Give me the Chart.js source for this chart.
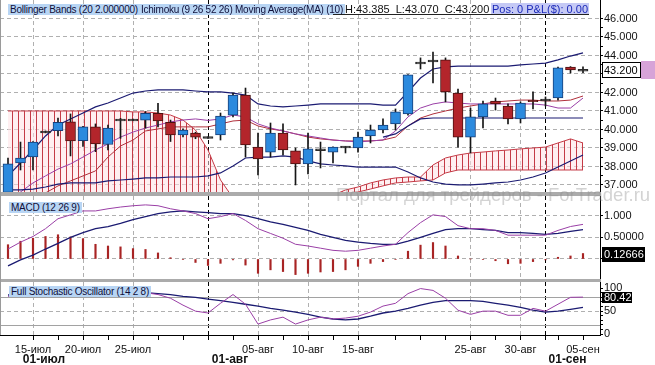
<!DOCTYPE html>
<html lang="ru">
<head>
<meta charset="utf-8">
<title>Bollinger / Ichimoku / MACD / Stochastic</title>
<script src="https://cdn.jsdelivr.net/npm/chart.js@4.4.1/dist/chart.umd.min.js"></script>
<style>
    html, body { margin: 0; padding: 0; background: #fff; }
    body { position: relative; width: 655px; height: 365px; overflow: hidden;
           font-family: "Liberation Sans", Arial, sans-serif; }
    canvas { position: absolute; left: 0; }
    #main-chart { top: 0; }
    #macd-chart { top: 196px; }
    #stoch-chart { top: 282px; }
    .sep { position: absolute; left: 0; width: 601px; background: #ababab; z-index: 2; }
    .edge { position: absolute; left: 0; top: 0; width: 1px; height: 335px; background: #9a9a9a; z-index: 2; }
    .tag { position: absolute; z-index: 3; height: 11px; line-height: 11px; padding: 0 2px;
           font-size: 10px; white-space: nowrap; background: #b8d5f4; color: #10103a; letter-spacing: -0.25px; }
    .plain { position: absolute; z-index: 3; font-size: 11px; line-height: 12px; white-space: nowrap; color: #111; }
    .pos { background: #c5c9f5; color: #1c2ab8; padding: 0 1px; }
    .underline { position: absolute; z-index: 3; left: 333px; top: 14px; width: 256px; height: 1px; background: #222; }
    .watermark { position: absolute; z-index: 3; left: 336px; top: 184px; font-size: 18.5px; line-height: 21px;
                 color: rgba(140,140,140,0.38); white-space: nowrap; }
</style>
</head>
<body>
<canvas id="main-chart" width="655" height="192"></canvas>
<canvas id="macd-chart" width="655" height="83"></canvas>
<canvas id="stoch-chart" width="655" height="83"></canvas>

<div class="sep" style="top:192px;height:4px"></div>
<div class="sep" style="top:279px;height:3px"></div>
<div class="edge"></div>

<span class="tag" style="left:8px;top:4px">Bollinger Bands (20 2.000000)</span>
<span class="tag" style="left:139px;top:4px">Ichimoku (9 26 52 26)</span>
<span class="tag" style="left:233px;top:4px">Moving Average(MA) (10)</span>
<span class="plain" style="left:345px;top:3px">H:43.385&nbsp;&nbsp;L:43.070&nbsp;&nbsp;C:43.200</span>
<span class="plain pos" style="left:491px;top:3px">Pos: 0 P&amp;L($): 0.00</span>
<div class="underline"></div>
<span class="tag" style="left:9px;top:202px">MACD (12 26 9)</span>
<span class="tag" style="left:9px;top:286px">Full Stochastic Oscillator (14 2 8)</span>
<div class="watermark">Портал для трейдеров - ForTrader.ru</div>

<script>
// ─── Данные (индекс = номер свечи) ──────────────────────────────────────────

const tickIdx = [2, 6, 10, 20, 24, 28, 37, 41, 46];
const tickText = ["15-июл", "20-июл", "25-июл", "05-авг", "10-авг", "15-авг", "25-авг", "30-авг", "05-сен"];
const gridIdx = [2, 6, 10, 20, 24, 28, 37, 41];
const minorIdx = [4, 8, 12, 14, 18, 22, 26, 31, 33, 35, 39, 44];
const monthIdx = [-9, 16, 43];
const monthText = ["01-июл", "01-авг", "01-сен"];

const priceTicks = [37, 38, 39, 40, 41, 42, 43, 44, 45, 46];
const macdTicks = [0, 0.5, 1];
const macdTickText = ["", "0.50000", "1.000"];
const stochTicks = [0, 50, 100];
const stochLevels = [20, 80];

const opens = [36.60, 38.19, 38.51, 39.86, 39.93, 40.41, 39.39, 40.14, 39.19, 40.51,
    40.53, 40.51, 40.87, 40.38, 39.70, 39.81, 39.57, 39.70, 40.78, 41.86,
    39.05, 38.78, 39.81, 38.84, 38.14, 38.92, 38.78, 39.05, 39.00, 39.65,
    39.97, 40.30, 40.84, 43.59, 43.70, 43.76, 41.97, 39.59, 40.68, 41.54,
    41.27, 40.57, 41.58, 41.59, 41.70, 43.38, 43.20];
const highs = [38.45, 39.32, 39.35, 39.92, 40.62, 40.84, 40.17, 40.30, 40.24, 40.60,
    40.56, 40.97, 41.42, 40.51, 40.03, 39.85, 39.60, 40.89, 41.97, 42.24,
    39.81, 40.35, 40.30, 39.00, 39.81, 39.32, 39.06, 39.08, 39.86, 40.24,
    40.57, 41.11, 42.97, 43.87, 44.19, 43.87, 42.19, 41.16, 41.54, 41.70,
    41.38, 41.49, 42.03, 41.76, 43.38, 43.40, 43.385];
const lows = [36.40, 37.81, 37.81, 39.82, 39.65, 38.57, 39.08, 38.80, 38.89, 39.52,
    40.48, 40.07, 40.14, 39.35, 39.60, 39.50, 39.52, 39.43, 40.68, 38.51,
    37.54, 38.51, 38.62, 37.00, 37.60, 37.92, 38.19, 38.73, 38.78, 39.27,
    39.81, 39.97, 40.78, 43.27, 42.52, 41.49, 39.05, 38.73, 40.08, 41.05,
    40.30, 40.35, 41.11, 41.27, 41.59, 43.05, 43.07];
const closes = [38.14, 38.46, 39.32, 39.86, 40.39, 39.38, 40.14, 39.22, 40.07, 40.51,
    40.49, 40.87, 40.46, 39.70, 39.97, 39.59, 39.57, 40.73, 41.86, 39.16,
    38.41, 39.81, 38.89, 38.14, 38.95, 38.89, 39.05, 39.05, 39.59, 39.97,
    40.24, 40.95, 42.95, 43.59, 43.70, 42.03, 39.59, 40.68, 41.38, 41.38,
    40.57, 41.43, 41.50, 41.59, 43.33, 43.22, 43.20];

const bbUpper = [37.49, 38.19, 38.89, 39.65, 40.24, 40.57, 40.89, 41.22, 41.43, 41.70,
    41.97, 42.08, 42.14, 42.14, 42.14, 42.08, 42.03, 42.03, 41.97, 41.86,
    41.38, 41.27, 41.22, 41.27, 41.32, 41.38, 41.38, 41.38, 41.38, 41.38,
    41.32, 41.32, 42.03, 42.78, 43.27, 43.38, 43.43, 43.43, 43.43, 43.43,
    43.43, 43.49, 43.54, 43.59, 43.76, 43.97, 44.14];
const bbLower = [36.73, 36.73, 36.78, 36.89, 37.05, 37.11, 37.11, 37.11, 37.22, 37.27,
    37.32, 37.38, 37.38, 37.43, 37.43, 37.43, 37.49, 37.65, 38.03, 38.46,
    38.51, 38.51, 38.57, 38.51, 38.30, 38.14, 38.08, 38.03, 37.97, 37.97,
    37.97, 37.97, 37.70, 37.38, 37.16, 37.05, 37.00, 37.00, 37.05, 37.11,
    37.16, 37.27, 37.43, 37.65, 37.97, 38.30, 38.62];
const maLine = [36.24, 36.62, 37.11, 37.49, 37.86, 38.14, 38.51, 38.89, 39.22, 39.59,
    39.86, 40.08, 40.24, 40.41, 40.51, 40.57, 40.49, 40.57, 40.78, 40.68,
    40.30, 40.08, 39.92, 39.76, 39.65, 39.54, 39.43, 39.38, 39.32, 39.38,
    39.43, 39.92, 40.68, 41.16, 41.38, 41.49, 41.43, 41.38, 41.38, 41.38,
    41.38, 41.38, 41.38, 41.32, 41.16, 41.16, 41.70];
const tenkan = [35.90, 36.10, 36.35, 36.57, 36.95, 37.22, 37.49, 37.76, 38.51, 39.11,
    39.43, 39.92, 40.03, 40.14, 40.14, 40.14, 40.14, 40.30, 40.46, 40.51,
    40.19, 40.03, 39.92, 39.76, 39.59, 39.49, 39.43, 39.38, 39.38, 39.38,
    39.43, 39.59, 40.19, 40.62, 40.84, 41.00, 41.16, 41.27, 41.38, 41.49,
    41.54, 41.59, 41.59, 41.54, 41.54, 41.59, 41.81];
const kijun = [null, null, null, null, null, null, null, null, null, null,
    null, null, null, null, null, null, null, null, null, null,
    null, null, null, null, null, null, null, null, null, null,
    39.59, 39.76, 40.19, 40.57, 40.62, 40.62, 40.62, 40.62, 40.62, 40.62,
    40.62, 40.62, 40.62, 40.62, 40.62, 40.62, 40.62];
const spanA = [41.00, 41.00, 41.00, 41.00, 41.00, 41.00, 41.00, 41.00, 41.00, 41.00,
    40.95, 40.95, 40.89, 40.78, 40.51, 39.97, 38.89, 37.27, 36.30, 36.20,
    36.20, 36.20, 36.20, 36.20, 36.20, 36.20, 36.45, 36.73, 36.89, 37.11,
    37.27, 37.38, 37.43, 37.43, 38.08, 38.46, 38.62, 38.73, 38.78, 38.84,
    38.89, 38.95, 39.00, 39.05, 39.27, 39.49, 39.27];
const spanB = [36.00, 36.00, 36.00, 36.00, 36.00, 36.00, 36.00, 36.00, 36.00, 36.00,
    36.00, 36.00, 36.00, 36.00, 36.00, 36.00, 36.00, 36.00, 36.00, 36.00,
    36.00, 36.00, 36.00, 36.00, 36.00, 36.00, 36.30, 36.51, 36.62, 36.78,
    36.95, 37.11, 37.16, 37.22, 37.27, 37.65, 37.81, 37.81, 37.81, 37.81,
    37.81, 37.81, 37.81, 37.81, 37.81, 37.81, 37.81];

const macd = [0.23, 0.39, 0.52, 0.70, 0.93, 1.02, 1.11, 1.11, 1.16, 1.20,
    1.23, 1.25, 1.23, 1.16, 1.11, 1.05, 0.93, 0.98, 1.05, 0.89,
    0.70, 0.59, 0.48, 0.34, 0.30, 0.25, 0.20, 0.18, 0.20, 0.25,
    0.30, 0.34, 0.61, 0.84, 1.02, 0.98, 0.77, 0.70, 0.70, 0.66,
    0.55, 0.55, 0.55, 0.55, 0.66, 0.75, 0.80];
const signal = [-0.16, -0.02, 0.09, 0.23, 0.36, 0.50, 0.61, 0.70, 0.75, 0.82,
    0.91, 0.98, 1.05, 1.09, 1.11, 1.09, 1.07, 1.05, 1.05, 1.00,
    0.93, 0.86, 0.80, 0.73, 0.66, 0.57, 0.50, 0.43, 0.39, 0.36,
    0.34, 0.34, 0.41, 0.50, 0.59, 0.68, 0.70, 0.70, 0.68, 0.66,
    0.61, 0.61, 0.59, 0.57, 0.59, 0.64, 0.68];
const hist = [0.33, 0.41, 0.48, 0.52, 0.56, 0.51, 0.47, 0.34, 0.30, 0.28,
    0.24, 0.22, 0.14, 0.03, -0.01, -0.08, -0.15, -0.10, -0.02, -0.14,
    -0.33, -0.25, -0.29, -0.36, -0.33, -0.30, -0.29, -0.25, -0.17, -0.10,
    -0.06, -0.01, 0.18, 0.32, 0.38, 0.30, 0.07, 0.00, -0.01, -0.04,
    -0.11, -0.10, -0.06, -0.02, 0.04, 0.07, 0.12666];

const stochK = [82, 86, 88, 90, 92, 91, 90, 91, 92, 91,
    90, 90, 86, 78, 63, 50, 46, 67, 86, 65,
    22, 31, 37, 22, 31, 37, 33, 35, 39, 48,
    61, 67, 88, 99, 95, 78, 52, 43, 50, 50,
    41, 41, 56, 50, 65, 80, 80.42];
const stochD = [85, 86, 87, 88, 89, 90, 90, 90, 90, 90,
    90, 90, 88, 86, 82, 80, 76, 73, 69, 65,
    61, 56, 52, 48, 43, 37, 33, 31, 33, 39,
    46, 50, 56, 63, 69, 73, 73, 73, 71, 67,
    63, 58, 52, 48, 50, 54, 58];

// ─── Общий стиль ────────────────────────────────────────────────────────────

const FONT = '"Liberation Sans", Arial, sans-serif';
const GRID = "#b0b0b0";
const NAVY = "#1b1b72";
const PURPLE = "#9a3fa6";
const MAROON = "#b0303c";
const CLOUD = "#c43a46";
const CLEAR = "rgba(0,0,0,0)";

Chart.defaults.font.family = FONT;
Chart.defaults.font.size = 11;
Chart.defaults.color = "#111";
Chart.defaults.animation = false;

const pts = (arr) => arr.map((v, i) => ({x: i, y: v}));
const same = (a, b) => Math.abs(a - b) < 1e-9;

function line(arr, color, width, order) {
    return {type: "line", data: pts(arr), borderColor: color, borderWidth: width,
        pointRadius: 0, tension: 0, fill: false, order};
}

// ось X: линейная, чтобы свечи шли ровно через 12.5px
function xScale(withLabels) {
    const list = withLabels
        ? [...tickIdx, ...monthIdx.slice(1), ...minorIdx]
        : [...gridIdx, ...monthIdx.slice(1)];
    list.sort((a, b) => a - b);
    return {
        type: "linear", min: -0.64, max: 47.36, bounds: "data", offset: false,
        afterBuildTicks: (s) => { s.ticks = list.map((v) => ({value: v})); },
        afterFit: (s) => { s.height = withLabels ? 30 : 0; s.paddingLeft = 0; s.paddingRight = 0; },
        grid: {
            offset: false,
            drawTicks: withLabels,
            tickLength: 5,
            tickColor: "#000",
            color: (ctx) => monthIdx.includes(ctx.tick.value) ? "#000"
                : gridIdx.includes(ctx.tick.value) ? GRID : CLEAR,
        },
        border: {display: false, dash: [4, 3]},
        ticks: {
            display: withLabels, autoSkip: false, maxRotation: 0, padding: 3,
            callback: (v) => { const k = tickIdx.indexOf(v); return k >= 0 ? tickText[k] : ""; },
        },
    };
}

// правая ось значений фиксированной ширины — чтобы все три панели совпадали по X
function yScale(min, max, ticks, label, gridAt) {
    return {
        position: "right", min, max, bounds: "data",
        afterBuildTicks: (s) => { s.ticks = ticks.map((v) => ({value: v})); },
        afterFit: (s) => { s.width = 55; s.paddingTop = 0; s.paddingBottom = 0; },
        grid: {color: (ctx) => gridAt(ctx.tick.value) ? GRID : CLEAR, tickColor: "#000", tickLength: 3},
        border: {display: false, dash: [4, 3]},
        ticks: {autoSkip: false, padding: 1, callback: label},
    };
}

// ─── Плагин: ось, уровни, метка последнего значения, месяцы ─────────────────

const panelDecor = {
    id: "panelDecor",
    beforeDatasetsDraw(chart, args, opts) {
        if (!opts.levels) return;
        const {ctx, chartArea: a, scales: {y}} = chart;
        ctx.save();
        ctx.strokeStyle = "#a2a2a2";
        ctx.lineWidth = 1;
        for (const v of opts.levels) {
            const py = Math.round(y.getPixelForValue(v)) + 0.5;
            ctx.beginPath();
            ctx.moveTo(a.left, py);
            ctx.lineTo(a.right, py);
            ctx.stroke();
        }
        ctx.restore();
    },
    afterDraw(chart, args, opts) {
        const {ctx, chartArea: a, scales: {x, y}} = chart;
        ctx.save();
        ctx.strokeStyle = "#000";
        ctx.lineWidth = 1;
        ctx.beginPath();
        ctx.moveTo(a.right + 0.5, a.top);
        ctx.lineTo(a.right + 0.5, a.bottom);
        if (opts.bottomAxis) {
            ctx.moveTo(a.left, a.bottom + 0.5);
            ctx.lineTo(a.right + 1, a.bottom + 0.5);
        }
        ctx.stroke();

        const m = opts.marker;
        if (m) {
            const cy = Math.round(y.getPixelForValue(m.value));
            const bx = a.right + 2;
            const by = cy - Math.floor(m.height / 2);
            if (m.pink) {
                ctx.fillStyle = m.pink;
                ctx.fillRect(bx + m.width, by - 1, chart.width - bx - m.width, m.height + 2);
            }
            ctx.fillStyle = m.bg;
            ctx.fillRect(bx, by, m.width, m.height);
            if (m.border) {
                ctx.strokeStyle = m.border;
                ctx.strokeRect(bx + 0.5, by + 0.5, m.width - 1, m.height - 1);
            }
            ctx.fillStyle = m.fg;
            ctx.font = `11px ${FONT}`;
            ctx.textAlign = "left";
            ctx.textBaseline = "middle";
            ctx.fillText(m.text, bx + 2, cy + 0.5);
        }

        if (opts.months) {
            ctx.fillStyle = "#111";
            ctx.font = `bold 12px ${FONT}`;
            ctx.textAlign = "center";
            ctx.textBaseline = "middle";
            monthIdx.forEach((mi, k) => {
                const cx = Math.max(a.left + 44, x.getPixelForValue(mi) + 22);
                ctx.fillText(monthText[k], cx, a.bottom + 25);
            });
        }
        ctx.restore();
    },
};

Chart.register(panelDecor);

const baseOptions = (scales, decor) => ({
    responsive: false,
    animation: false,
    layout: {padding: 0, autoPadding: false},
    plugins: {legend: {display: false}, tooltip: {enabled: false}, panelDecor: decor},
    scales,
});

// ─── Основная панель: свечи + Bollinger + Ichimoku + MA ─────────────────────

const idx = closes.map((_, i) => i);
const DOJI = 0.06;
const CANDLE = {
    up: {fill: "#2c8ade", edge: "#163e78"},
    down: {fill: "#b3252b", edge: "#4a1010"},
    doji: {fill: "#2a2a2a", edge: "#2a2a2a"},
};

function candleKind(i) {
    const d = closes[i] - opens[i];
    return d >= DOJI ? "up" : d <= -DOJI ? "down" : "doji";
}

const bodyData = idx.map((i) => {
    if (candleKind(i) !== "doji") return {x: i, y: [opens[i], closes[i]]};
    // доджи рисуем тонкой чёрточкой
    const mid = (opens[i] + closes[i]) / 2;
    return {x: i, y: [mid - 0.05, mid + 0.05]};
});
const wickData = idx.map((i) => ({x: i, y: [lows[i], highs[i]]}));

// штриховка облака Ишимоку
function hatchPattern(target) {
    const c = document.createElement("canvas");
    c.width = 6;
    c.height = 6;
    const g = c.getContext("2d");
    g.fillStyle = "rgba(255,226,230,0.55)";
    g.fillRect(0, 0, 6, 6);
    g.fillStyle = CLOUD;
    g.fillRect(0, 0, 1, 6);
    return target.getContext("2d").createPattern(c, "repeat");
}

const mainCanvas = document.getElementById("main-chart");
const halfTicks = priceTicks.flatMap((v) => [v, v + 0.5]).filter((v) => v <= priceTicks[priceTicks.length - 1]);

new Chart(mainCanvas, {
    type: "bar",
    data: {
        datasets: [
            {type: "bar", data: bodyData, grouped: false, barThickness: 10, borderWidth: 1, borderSkipped: false,
                backgroundColor: idx.map((i) => CANDLE[candleKind(i)].fill),
                borderColor: idx.map((i) => CANDLE[candleKind(i)].edge), order: 0},
            {type: "bar", data: wickData, grouped: false, barThickness: 1, backgroundColor: "#161616", order: 1},
            line(bbUpper, NAVY, 1.2, 2),
            line(bbLower, NAVY, 1.2, 2),
            line(kijun, NAVY, 1.2, 2),
            line(maLine, PURPLE, 1, 3),
            line(tenkan, MAROON, 1, 3),
            {type: "line", data: pts(spanA), borderColor: CLOUD, borderWidth: 1, pointRadius: 0, tension: 0,
                fill: false, order: 5},
            {type: "line", data: pts(spanB), borderColor: CLOUD, borderWidth: 1, pointRadius: 0, tension: 0,
                fill: "-1", backgroundColor: hatchPattern(mainCanvas), order: 5},
        ],
    },
    options: baseOptions({
        x: xScale(false),
        y: yScale(36.62, 47.0, halfTicks,
            (v) => Number.isInteger(v) ? v.toFixed(3) : "",
            (v) => Number.isInteger(v)),
    }, {
        marker: {value: closes[closes.length - 1], text: closes[closes.length - 1].toFixed(3),
            width: 39, height: 16, bg: "#fff", fg: "#000", border: "#000", pink: "#d7a3d8"},
    }),
});

// ─── MACD ───────────────────────────────────────────────────────────────────

new Chart(document.getElementById("macd-chart"), {
    type: "bar",
    data: {
        datasets: [
            {type: "bar", data: pts(hist), grouped: false, barThickness: 1.5, backgroundColor: "#a82424", order: 2},
            line(macd, PURPLE, 1, 1),
            line(signal, NAVY, 1.3, 1),
        ],
    },
    options: baseOptions({
        x: xScale(false),
        y: yScale(-0.462, 1.455, macdTicks,
            (v) => { const k = macdTicks.findIndex((t) => same(t, v)); return k >= 0 ? macdTickText[k] : ""; },
            () => true),
    }, {
        marker: {value: hist[hist.length - 1], text: hist[hist.length - 1].toFixed(5),
            width: 43, height: 15, bg: "#000", fg: "#fff"},
    }),
});

// ─── Stochastic ─────────────────────────────────────────────────────────────

const stochAll = [0, 10, 20, 30, 40, 50, 60, 70, 80, 90, 100];

new Chart(document.getElementById("stoch-chart"), {
    type: "line",
    data: {
        datasets: [
            line(stochK, PURPLE, 1, 1),
            line(stochD, NAVY, 1.3, 1),
        ],
    },
    options: baseOptions({
        x: xScale(true),
        y: yScale(-1.7, 113.2, stochAll,
            (v) => stochTicks.includes(v) ? String(v) : "",
            (v) => v === 50),
    }, {
        levels: stochLevels,
        bottomAxis: true,
        months: true,
        marker: {value: stochK[stochK.length - 1], text: stochK[stochK.length - 1].toFixed(2),
            width: 30, height: 11, bg: "#000", fg: "#fff"},
    }),
});
</script>
</body>
</html>
